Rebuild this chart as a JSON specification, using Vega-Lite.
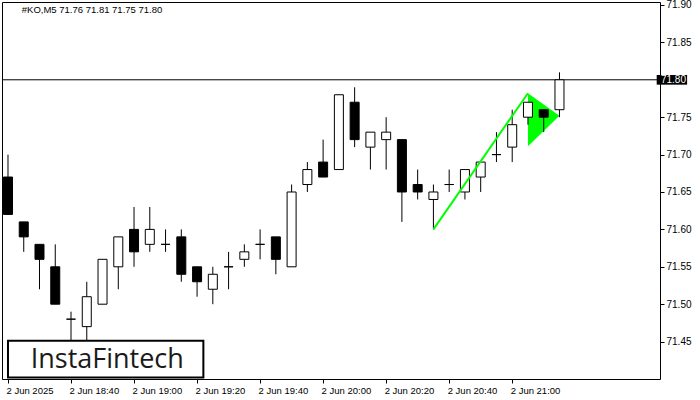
{
  "$schema": "https://vega.github.io/schema/vega-lite/v6.json",
  "width": 658,
  "height": 377,
  "autosize": "none",
  "padding": {"left": 2, "top": 2, "right": 40, "bottom": 21},
  "background": "white",
  "config": {
    "view": {"stroke": "black", "strokeWidth": 1},
    "font": "Liberation Sans"
  },
  "datasets": {
    "candles": [
      {"i": 0, "t": "18:20", "o": 71.67, "h": 71.70, "l": 71.62, "c": 71.62},
      {"i": 1, "t": "18:25", "o": 71.61, "h": 71.61, "l": 71.57, "c": 71.59},
      {"i": 2, "t": "18:30", "o": 71.58, "h": 71.58, "l": 71.52, "c": 71.56},
      {"i": 3, "t": "18:35", "o": 71.55, "h": 71.58, "l": 71.50, "c": 71.50},
      {"i": 4, "t": "18:40", "o": 71.48, "h": 71.49, "l": 71.44, "c": 71.48},
      {"i": 5, "t": "18:45", "o": 71.47, "h": 71.53, "l": 71.45, "c": 71.51},
      {"i": 6, "t": "18:50", "o": 71.50, "h": 71.56, "l": 71.50, "c": 71.56},
      {"i": 7, "t": "18:55", "o": 71.55, "h": 71.59, "l": 71.52, "c": 71.59},
      {"i": 8, "t": "19:00", "o": 71.60, "h": 71.63, "l": 71.55, "c": 71.57},
      {"i": 9, "t": "19:05", "o": 71.58, "h": 71.63, "l": 71.57, "c": 71.60},
      {"i": 10, "t": "19:10", "o": 71.58, "h": 71.60, "l": 71.57, "c": 71.58},
      {"i": 11, "t": "19:15", "o": 71.59, "h": 71.60, "l": 71.53, "c": 71.54},
      {"i": 12, "t": "19:20", "o": 71.55, "h": 71.55, "l": 71.51, "c": 71.53},
      {"i": 13, "t": "19:25", "o": 71.52, "h": 71.55, "l": 71.50, "c": 71.54},
      {"i": 14, "t": "19:30", "o": 71.55, "h": 71.57, "l": 71.52, "c": 71.55},
      {"i": 15, "t": "19:35", "o": 71.56, "h": 71.58, "l": 71.55, "c": 71.57},
      {"i": 16, "t": "19:40", "o": 71.58, "h": 71.60, "l": 71.56, "c": 71.58},
      {"i": 17, "t": "19:45", "o": 71.59, "h": 71.59, "l": 71.54, "c": 71.56},
      {"i": 18, "t": "19:50", "o": 71.55, "h": 71.66, "l": 71.55, "c": 71.65},
      {"i": 19, "t": "19:55", "o": 71.66, "h": 71.69, "l": 71.65, "c": 71.68},
      {"i": 20, "t": "20:00", "o": 71.69, "h": 71.72, "l": 71.67, "c": 71.67},
      {"i": 21, "t": "20:05", "o": 71.68, "h": 71.78, "l": 71.68, "c": 71.78},
      {"i": 22, "t": "20:10", "o": 71.77, "h": 71.79, "l": 71.71, "c": 71.72},
      {"i": 23, "t": "20:15", "o": 71.71, "h": 71.73, "l": 71.68, "c": 71.73},
      {"i": 24, "t": "20:20", "o": 71.72, "h": 71.75, "l": 71.68, "c": 71.73},
      {"i": 25, "t": "20:25", "o": 71.72, "h": 71.72, "l": 71.61, "c": 71.65},
      {"i": 26, "t": "20:30", "o": 71.66, "h": 71.68, "l": 71.64, "c": 71.65},
      {"i": 27, "t": "20:35", "o": 71.64, "h": 71.66, "l": 71.60, "c": 71.65},
      {"i": 28, "t": "20:40", "o": 71.66, "h": 71.68, "l": 71.65, "c": 71.66},
      {"i": 29, "t": "20:45", "o": 71.65, "h": 71.68, "l": 71.64, "c": 71.68},
      {"i": 30, "t": "20:50", "o": 71.67, "h": 71.69, "l": 71.65, "c": 71.69},
      {"i": 31, "t": "20:55", "o": 71.70, "h": 71.73, "l": 71.69, "c": 71.70},
      {"i": 32, "t": "21:00", "o": 71.71, "h": 71.76, "l": 71.69, "c": 71.74},
      {"i": 33, "t": "21:05", "o": 71.75, "h": 71.77, "l": 71.74, "c": 71.77},
      {"i": 34, "t": "21:10", "o": 71.76, "h": 71.76, "l": 71.73, "c": 71.75},
      {"i": 35, "t": "21:15", "o": 71.76, "h": 71.81, "l": 71.75, "c": 71.80}
    ]
  },
  "encoding": {
    "x": {
      "field": "i",
      "type": "quantitative",
      "scale": {"domain": [-0.0625, 41.0625], "nice": false, "zero": false},
      "axis": {
        "title": null,
        "orient": "bottom",
        "values": [0, 4, 8, 12, 16, 20, 24, 28, 32],
        "labelExpr": "datum.value == 0 ? '2 Jun 2025' : '2 Jun ' + timeFormat(datetime(2025, 5, 2, 18, 20 + 5 * datum.value), '%H:%M')",
        "labelAlign": "left",
        "labelBaseline": "top",
        "labelPadding": 2,
        "labelOffset": -2,
        "labelFontSize": 9.5,
        "labelColor": "black",
        "labelFont": "Liberation Sans",
        "tickSize": 4,
        "tickColor": "black",
        "domain": false,
        "grid": false,
        "labelFlush": false,
        "labelOverlap": false
      }
    },
    "y": {
      "type": "quantitative",
      "scale": {"domain": [71.40, 71.904], "nice": false, "zero": false},
      "axis": {
        "title": null,
        "orient": "right",
        "values": [71.45, 71.5, 71.55, 71.6, 71.65, 71.7, 71.75, 71.8, 71.85, 71.9],
        "labelExpr": "abs(datum.value - 71.8) < 0.001 ? '' : format(datum.value, '.2f')",
        "labelPadding": 2,
        "labelFontSize": 10,
        "labelColor": "black",
        "labelFont": "Liberation Sans",
        "tickSize": 4,
        "tickColor": "black",
        "domain": false,
        "grid": false,
        "labelFlush": false,
        "labelOverlap": false
      }
    }
  },
  "layer": [
    {
      "data": {"values": [{"i": 33, "p": 71.782, "p2": 71.711}, {"i": 35, "p": 71.752, "p2": 71.752}]},
      "mark": {"type": "area", "color": "#00ff00", "opacity": 1},
      "encoding": {"y": {"field": "p"}, "y2": {"field": "p2"}}
    },
    {
      "data": {"values": [{"p": 71.8}]},
      "mark": {"type": "rule", "color": "black", "strokeWidth": 1},
      "encoding": {"y": {"field": "p"}, "x": null}
    },
    {
      "data": {"name": "candles"},
      "mark": {"type": "rule", "color": "black", "strokeWidth": 1},
      "encoding": {"y": {"field": "l"}, "y2": {"field": "h"}}
    },
    {
      "data": {"name": "candles"},
      "mark": {"type": "bar", "size": 9, "stroke": "black", "strokeWidth": 1},
      "encoding": {
        "y": {"field": "o"},
        "y2": {"field": "c"},
        "fill": {"condition": {"test": "datum.c >= datum.o", "value": "white"}, "value": "black"}
      }
    },
    {
      "data": {"values": [{"i": 27, "p": 71.60}, {"i": 33, "p": 71.782}]},
      "mark": {"type": "line", "color": "#00ff00", "strokeWidth": 2},
      "encoding": {"y": {"field": "p"}}
    },
    {
      "data": {"values": [{"i": 0, "i2": 12.4, "p": 71.402, "p2": 71.451}]},
      "mark": {"type": "rect", "fill": "white", "stroke": "black", "strokeWidth": 2},
      "encoding": {"x2": {"field": "i2"}, "y": {"field": "p"}, "y2": {"field": "p2"}}
    },
    {
      "data": {"values": [{"i": 6.3, "p": 71.4255, "label": "InstaFintech"}]},
      "mark": {"type": "text", "font": "Open Sans", "fontSize": 27, "color": "#1a1a1a", "align": "center", "baseline": "middle"},
      "encoding": {"y": {"field": "p"}, "text": {"field": "label"}}
    },
    {
      "data": {"values": [{"i": 0.875, "p": 71.893, "label": "#KO,M5  71.76 71.81 71.75 71.80"}]},
      "mark": {"type": "text", "font": "Liberation Sans", "fontSize": 9.5, "color": "black", "align": "left", "baseline": "middle"},
      "encoding": {"y": {"field": "p"}, "text": {"field": "label"}}
    },
    {
      "data": {"values": [{"i": 41.17, "i2": 43.1, "p": 71.8064, "p2": 71.7935}]},
      "mark": {"type": "rect", "fill": "black", "clip": false},
      "encoding": {"x2": {"field": "i2"}, "y": {"field": "p"}, "y2": {"field": "p2"}}
    },
    {
      "data": {"values": [{"i": 41.44, "p": 71.8, "label": "71.80"}]},
      "mark": {"type": "text", "font": "Liberation Sans", "fontSize": 10, "color": "white", "align": "left", "baseline": "middle", "clip": false},
      "encoding": {"y": {"field": "p"}, "text": {"field": "label"}}
    }
  ]
}
